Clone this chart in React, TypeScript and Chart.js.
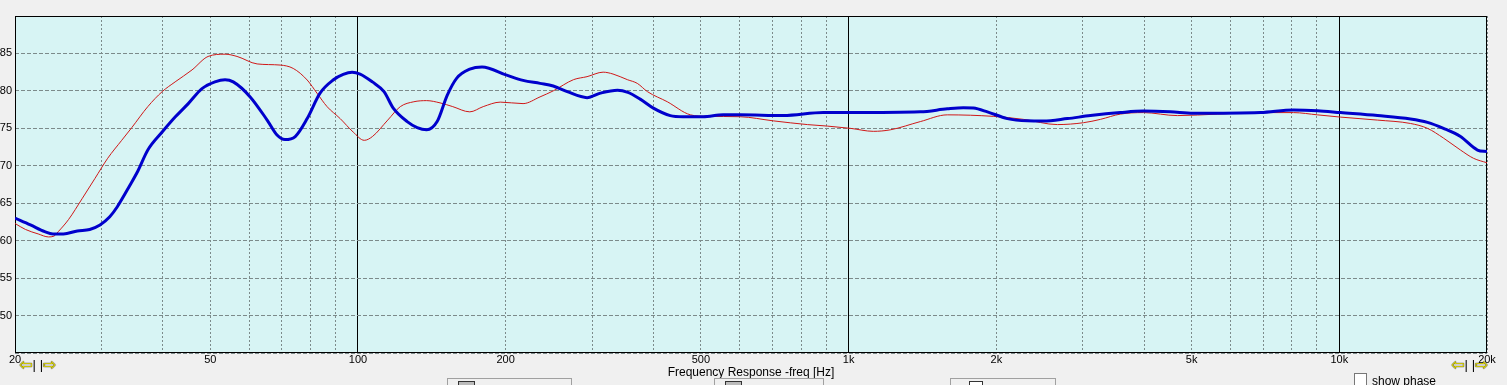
import React, { useEffect, useRef } from 'react';
import { Chart, registerables } from 'chart.js';

Chart.register(...registerables);

// ---- data ----
const blueFreq = [
  20, 21.5, 23.0, 23.9, 25.1, 26.8, 28.4, 29.8, 31.2, 32.3, 34.3, 35.6, 37.3, 39.9, 42.4, 45.1, 48.1, 51.1,
  53.6, 55.7, 60.3, 65.3, 68.4, 71.0, 74.5, 78.8, 83.7, 89.0, 93.3, 97.3, 101, 107, 113, 118, 126, 132, 138,
  145, 152, 159, 169, 179, 201, 217, 235, 250, 267, 293, 312, 338, 355, 376, 400, 433, 460, 505, 555, 601,
  736, 888, 1008, 1400, 1589, 1713, 1796, 1918, 2106, 2314, 2494, 2792, 3110, 3578, 3988, 4525, 5042, 6906,
  8065, 9023, 10058, 11964, 13964, 15126, 16305, 17662, 19128, 20000,
];
const blueDb = [
  63.0, 62.1, 61.2, 60.9, 60.9, 61.3, 61.5, 62.1, 63.2, 64.5, 67.4, 69.3, 72.1, 74.5, 76.5, 78.3, 80.3, 81.2,
  81.5, 81.2, 79.2, 76.1, 74.1, 73.5, 73.9, 76.3, 79.7, 81.45, 82.2, 82.5, 82.25, 81.2, 79.9, 77.7, 75.9, 75.1, 74.8,
  75.9, 79.4, 81.7, 82.9, 83.2, 82.1, 81.4, 81.0, 80.65, 79.9, 79.1, 79.7, 80.1, 79.8, 78.9, 77.7, 76.7, 76.55, 76.55, 76.8, 76.8,
  76.7, 77.1, 77.1, 77.2, 77.6, 77.75, 77.7, 77.2, 76.3, 76.0, 75.97, 76.3, 76.7, 77.1, 77.3, 77.2, 77.0, 77.1,
  77.45, 77.35, 77.1, 76.7, 76.25, 75.8, 75.0, 73.9, 72.1, 71.9,
];
const redFreq = [
  20, 21.0, 22.3, 23.4, 24.0, 24.5, 25.7, 27.4, 29.1, 30.9, 33.0, 34.6, 37.3, 39.9, 42.4, 45.9, 49.5, 53.6,
  56.7, 62.3, 69.4, 73.8, 78.8, 82.5, 86.5, 92.0, 97.8, 103, 107, 115, 122, 130, 138, 147, 156, 169, 180,
  195, 217, 235, 250, 275, 293, 316, 331, 354, 371, 389, 427, 476, 515, 601, 702, 824, 905, 1008, 1123, 1216,
  1400, 1589, 1972, 2270, 2664, 3010, 3260, 3578, 3988, 4677, 5644, 6810, 8065, 9023, 10058, 11964, 13964,
  15126, 16305, 17662, 18772, 20000,
];
const redDb = [
  62.3, 61.5, 60.9, 60.5, 60.6, 61.2, 62.8, 65.6, 68.3, 71.0, 73.4, 75.1, 77.9, 79.9, 81.2, 82.8, 84.6, 84.9,
  84.6, 83.6, 83.45, 83.0, 81.45, 79.7, 77.9, 76.3, 74.5, 73.4, 73.9, 76.1, 77.9, 78.55, 78.7, 78.4, 77.9, 77.2, 77.9,
  78.5, 78.3, 79.2, 80.0, 81.5, 81.9, 82.5, 82.25, 81.5, 81.0, 79.9, 78.55, 76.8, 76.6, 76.55, 76.0, 75.5, 75.3, 75.0, 74.6, 74.8,
  75.9, 76.8, 76.6, 76.2, 75.5, 75.75, 76.2, 76.9, 77.1, 76.7, 76.9, 77.1, 77.1, 76.8, 76.5, 76.1, 75.65,
  75.0, 73.7, 72.1, 71.0, 70.4,
];

const xTickValues = [
  20, 30, 40, 50, 60, 70, 80, 90, 100, 200, 300, 400, 500, 600, 700, 800, 900,
  1000, 2000, 3000, 4000, 5000, 6000, 7000, 8000, 9000, 10000, 20000,
];
const xTickLabels: Record<number, string> = {
  20: '20', 50: '50', 100: '100', 200: '200', 500: '500',
  1000: '1k', 2000: '2k', 5000: '5k', 10000: '10k', 20000: '20k',
};
const xMajorLines = [100, 1000, 10000];
const yTickValues = [45, 50, 55, 60, 65, 70, 75, 80, 85, 90];
const yLabelValues = [50, 55, 60, 65, 70, 75, 80, 85];
const axisTitle = 'Frequency Response -freq [Hz]';

const PLOT_BG = '#d7f4f4';
const PAGE_BG = '#f0f0f0';
const FONT = "'Liberation Sans', Arial, sans-serif";

const plotFrame = {
  id: 'plotFrame',
  beforeDraw(chart: any) {
    const { ctx, chartArea } = chart;
    const { left, top, right, bottom } = chartArea;
    ctx.save();
    ctx.fillStyle = PLOT_BG;
    ctx.fillRect(left, top, right - left, bottom - top);
    ctx.restore();
  },
  beforeDatasetsDraw(chart: any) {
    const { ctx, chartArea } = chart;
    const { left, top, right, bottom } = chartArea;
    ctx.save();
    ctx.strokeStyle = '#000';
    ctx.lineWidth = 1;
    ctx.setLineDash([]);
    ctx.strokeRect(left + 0.5, top + 0.5, right - left - 1, bottom - top - 1);
    ctx.restore();
  },
};

export default function App() {
  const ref = useRef<HTMLCanvasElement | null>(null);

  useEffect(() => {
    if (!ref.current) return;
    const chart = new Chart(ref.current, {
      type: 'line',
      data: {
        datasets: [
          {
            label: 'blue',
            data: blueFreq.map((f, i) => ({ x: f, y: blueDb[i] })),
            borderColor: '#0000cc',
            borderWidth: 3,
            pointRadius: 0,
            cubicInterpolationMode: 'monotone',
            xAxisID: 'x',
            yAxisID: 'y',
          },
          {
            label: 'red',
            data: redFreq.map((f, i) => ({ x: f, y: redDb[i] })),
            borderColor: '#d01818',
            borderWidth: 1,
            pointRadius: 0,
            cubicInterpolationMode: 'monotone',
            xAxisID: 'x',
            yAxisID: 'y',
          },
        ],
      },
      options: {
        animation: false,
        responsive: false,
        devicePixelRatio: 1,
        layout: { padding: { top: 16, right: 20, left: 0, bottom: 0 } },
        plugins: { legend: { display: false }, tooltip: { enabled: false } },
        scales: {
          x: {
            type: 'logarithmic',
            position: 'bottom',
            min: 20,
            max: 20000,
            afterBuildTicks: (s: any) => {
              s.ticks = xTickValues.map((v) => ({ value: v }));
            },
            afterFit: (s: any) => {
              s.height = 32;
            },
            grid: { color: '#7c8a8a', lineWidth: 1, drawTicks: false },
            border: { display: false, dash: [2, 2] },
            ticks: {
              autoSkip: false,
              maxRotation: 0,
              minRotation: 0,
              padding: 0,
              color: '#000',
              font: { family: FONT, size: 11 },
              callback: (v: any) => xTickLabels[Number(v)] ?? '',
            },
            title: {
              display: true,
              text: axisTitle,
              color: '#000',
              font: { family: FONT, size: 12 },
              padding: { top: 0, bottom: 5 },
            },
          },
          xMajor: {
            type: 'logarithmic',
            position: 'bottom',
            min: 20,
            max: 20000,
            afterBuildTicks: (s: any) => {
              s.ticks = xMajorLines.map((v) => ({ value: v }));
            },
            afterFit: (s: any) => {
              s.height = 0;
            },
            grid: { color: '#000', lineWidth: 1, drawTicks: false },
            border: { display: false, dash: [] },
            ticks: { display: false },
          },
          y: {
            type: 'linear',
            position: 'left',
            min: 45,
            max: 90,
            afterBuildTicks: (s: any) => {
              s.ticks = yTickValues.map((v) => ({ value: v }));
            },
            afterFit: (s: any) => {
              s.width = 15;
            },
            grid: { color: '#7c8a8a', lineWidth: 1, drawTicks: false },
            border: { display: false, dash: [4, 2] },
            ticks: {
              padding: 3,
              color: '#000',
              font: { family: FONT, size: 11 },
              callback: (v: any) => (yLabelValues.includes(Number(v)) ? String(v) : ''),
            },
          },
        },
      },
      plugins: [plotFrame],
    } as any);
    return () => chart.destroy();
  }, []);

  const arrowStyle: React.CSSProperties = {
    color: '#f4ec00',
    textShadow: '0 0 1px #000, 0 0 1px #000',
    fontFamily: "'DejaVu Sans', sans-serif",
    fontSize: 16,
    lineHeight: '16px',
  };
  const barStyle: React.CSSProperties = { color: '#000', fontFamily: FONT, fontSize: 13, lineHeight: '16px' };

  const arrows = (left: number) => (
    <div style={{ position: 'absolute', left, top: 357, height: 16, whiteSpace: 'nowrap', display: 'flex', alignItems: 'center' }}>
      <span style={arrowStyle}>⇦</span>
      <span style={barStyle}>|</span>
      <span style={{ display: 'inline-block', width: 4 }} />
      <span style={barStyle}>|</span>
      <span style={arrowStyle}>⇨</span>
    </div>
  );

  const button = (left: number, width: number, white: boolean) => (
    <div
      style={{
        position: 'absolute',
        left,
        top: 378,
        width,
        height: 12,
        borderTop: '1px solid #a0a0a0',
        borderLeft: '1px solid #a0a0a0',
        borderRight: '1px solid #a0a0a0',
        background: PAGE_BG,
      }}
    >
      <div
        style={{
          position: 'absolute',
          left: white ? 18 : 10,
          top: 2,
          width: white ? 12 : 15,
          height: 10,
          border: '1px solid #333',
          background: white ? '#fff' : '#bbb',
        }}
      />
    </div>
  );

  return (
    <div
      style={{
        position: 'fixed',
        left: 0,
        top: 0,
        width: 1507,
        height: 385,
        overflow: 'hidden',
        background: PAGE_BG,
      }}
    >
      <canvas ref={ref} width={1507} height={385} style={{ display: 'block', width: 1507, height: 385 }} />
      {arrows(19)}
      {arrows(1451)}
      {button(447, 123, false)}
      {button(714, 108, false)}
      {button(950, 104, true)}
      <div
        style={{
          position: 'absolute',
          left: 1354,
          top: 373,
          width: 11,
          height: 11,
          border: '1px solid #777',
          background: '#fff',
        }}
      />
      <div
        style={{
          position: 'absolute',
          left: 1372,
          top: 374,
          fontFamily: FONT,
          fontSize: 12,
          lineHeight: '14px',
          color: '#000',
        }}
      >
        show phase
      </div>
    </div>
  );
}
